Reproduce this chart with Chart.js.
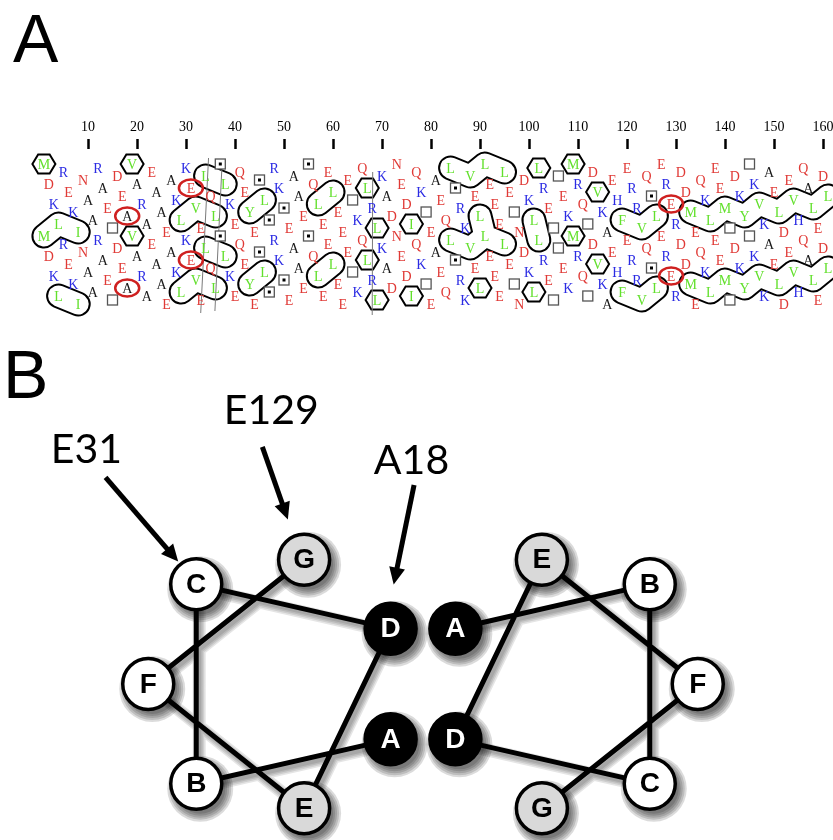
<!DOCTYPE html>
<html>
<head>
<meta charset="utf-8">
<script src="https://cdn.jsdelivr.net/npm/chart.js@4.4.1/dist/chart.umd.min.js"></script>
<style>
  html, body { margin: 0; padding: 0; background: #fff; }
  #wrap { position: relative; width: 833px; height: 840px; overflow: hidden; }
  #hca { position: absolute; left: 0; top: 0; }
  #wheel { position: absolute; left: 0; top: 345px; }
</style>
</head>
<body>
<div id="wrap">
  <canvas id="hca" width="833" height="345"></canvas>
  <canvas id="wheel" width="833" height="495"></canvas>
</div>
<script>
// ---- panel A : hydrophobic cluster plot ----
// residues 1-161, ten per chunk
const sequence = [...[
  'MDKLREKINA', 'ARAETDEAVA', 'RAEAAEAKLK', 'EVELQLSLKE', 'QEYESLSRKS',
  'EAAESQLEEL', 'EEETKQLRLK', 'ADNEDIQKTE', 'AEQLSRKVEL', 'LEEELETNDK',
  'LLRETTEKMR', 'QTDVKAEHFE', 'RRVQSLERER', 'DDMEQKLEEM', 'TDKYTKVKAE',
  'LDEVHQALED', 'L'
].join('')];
const turnAngle = 100;           // degrees per residue on the helical net
const tickValues = [10, 20, 30, 40, 50, 60, 70, 80, 90, 100, 110, 120, 130, 140, 150, 160];
const clusters = [
  [1, 4, 8], [19], [29, 32, 36], [34, 38], [43, 46], [57, 60], [67], [69], [76],
  [84, 88, 91, 90, 91, 95], [101, 102], [109], [114], [119, 123, 126],
  [133, 137, 140, 144, 147, 151, 154, 158, 161]
];
const circled = [18, 31, 129];
const guideLines = [
  [[34.6, 70], [33.0, 845]],
  [[37.3, 130], [35.9, 835]],
  [[68.1, 140], [68.0, 855]]
];
const groups = ['DENQ', 'KRH', 'VILMFYW', 'A', 'T', 'S'];
const groupNames = ['acidic / amide', 'basic', 'hydrophobic', 'alanine', 'threonine', 'serine'];
const groupColors = ['#e03a36', '#2b2be3', '#62e02c', '#1a1a1a', '#555555', '#555555'];

// ---- panel B : helical wheels ----
const heptad = ['A', 'B', 'C', 'D', 'E', 'F', 'G'];
const heptadFill = ['#000000', '#ffffff', '#ffffff', '#000000', '#d9d9d9', '#ffffff', '#d9d9d9'];
const wheelCenterX = [-1.155, 1.155];
const wheelStart = [-25.71, 154.29];
const wheelStep = -720 / 7;
const calloutText = ['E31', 'E129', 'A18'];
const calloutAt = [[-2.64, 1.84], [-1.19, 2.14], [-0.09, 1.75]];
const arrowFrom = [[-2.49, 1.62], [-1.26, 1.86], [-0.07, 1.56]];
const arrowTo = [[-1.92, 0.96], [-1.06, 1.29], [-0.23, 0.78]];

function angleOf(i) { return (i * turnAngle) % 360; }

function unwrapPath(path) {
  const out = [];
  path.forEach((res, k) => {
    let t = angleOf(res);
    if (k === 0) {
      if (t < 90) t += 360;
    } else {
      const prev = out[k - 1].t;
      while (t - prev > 180) t -= 360;
      while (prev - t > 180) t += 360;
    }
    out.push({res: res, t: t});
  });
  return out;
}

const letterSets = groups.map((g, gi) => {
  const pts = [];
  sequence.forEach((aa, k) => {
    if (g.indexOf(aa) < 0) return;
    const i = k + 1;
    let t = angleOf(i);
    if (t < 90) t += 360;
    pts.push({x: i, y: t, aa: aa});
    pts.push({x: i, y: t + 360, aa: aa});
  });
  return {label: groupNames[gi], data: pts, pointRadius: 0, color: groupColors[gi]};
});

const hcaPlugin = {
  id: 'hca',
  beforeDatasetsDraw(chart) {
    const ctx = chart.ctx, x = chart.scales.x, y = chart.scales.y;
    ctx.save();
    clusters.forEach(path => {
      const base = unwrapPath(path);
      [-360, 0, 360, 720].forEach(shift => {
        const pts = base.map(p => ({res: p.res, t: p.t + shift}))
          .filter(p => p.t >= 90 && p.t < 810)
          .map(p => [x.getPixelForValue(p.res), y.getPixelForValue(p.t)]);
        if (!pts.length) return;
        const distinct = new Set(pts.map(p => p.join(','))).size;
        if (distinct === 1) {
          const [px, py] = pts[0];
          ctx.beginPath();
          for (let a = 0; a < 6; a++) {
            const ang = Math.PI / 3 * a;
            const vx = px + 11.5 * Math.cos(ang), vy = py + 11 * Math.sin(ang);
            if (a === 0) ctx.moveTo(vx, vy); else ctx.lineTo(vx, vy);
          }
          ctx.closePath();
          ctx.fillStyle = '#fff';
          ctx.fill();
          ctx.lineWidth = 2;
          ctx.lineJoin = 'miter';
          ctx.strokeStyle = '#000';
          ctx.stroke();
        } else {
          const trace = () => {
            ctx.beginPath();
            pts.forEach((p, k) => k ? ctx.lineTo(p[0], p[1]) : ctx.moveTo(p[0], p[1]));
          };
          ctx.lineJoin = 'round';
          ctx.lineCap = 'round';
          trace();
          ctx.strokeStyle = '#000';
          ctx.lineWidth = 25;
          ctx.stroke();
          trace();
          ctx.strokeStyle = '#fff';
          ctx.lineWidth = 21;
          ctx.stroke();
        }
      });
    });
    ctx.strokeStyle = '#7a7a7a';
    ctx.lineWidth = 1;
    ctx.lineCap = 'butt';
    guideLines.forEach(seg => {
      ctx.beginPath();
      ctx.moveTo(x.getPixelForValue(seg[0][0]), y.getPixelForValue(seg[0][1]));
      ctx.lineTo(x.getPixelForValue(seg[1][0]), y.getPixelForValue(seg[1][1]));
      ctx.stroke();
    });
    ctx.restore();
  },
  afterDatasetsDraw(chart) {
    const ctx = chart.ctx, x = chart.scales.x, y = chart.scales.y;
    ctx.save();
    ctx.textAlign = 'center';
    ctx.textBaseline = 'middle';
    ctx.font = '14px "Liberation Serif", "Times New Roman", serif';
    chart.data.datasets.forEach((ds, di) => {
      const meta = chart.getDatasetMeta(di);
      meta.data.forEach((pt, j) => {
        const aa = ds.data[j].aa;
        if (aa === 'T' || aa === 'S') {
          ctx.fillStyle = '#fff';
          ctx.fillRect(pt.x - 5, pt.y - 5, 10, 10);
          ctx.strokeStyle = ds.color;
          ctx.lineWidth = 1.3;
          ctx.strokeRect(pt.x - 5, pt.y - 5, 10, 10);
          if (aa === 'S') {
            ctx.fillStyle = '#000';
            ctx.fillRect(pt.x - 1.5, pt.y - 1.5, 3, 3);
          }
        } else {
          ctx.fillStyle = ds.color;
          ctx.fillText(aa, pt.x, pt.y + 1);
        }
      });
    });
    ctx.strokeStyle = '#cf2020';
    ctx.lineWidth = 2.5;
    circled.forEach(i => {
      let t = angleOf(i);
      if (t < 90) t += 360;
      [t, t + 360].forEach(tt => {
        ctx.beginPath();
        ctx.ellipse(x.getPixelForValue(i), y.getPixelForValue(tt), 12, 8.5, 0, 0, Math.PI * 2);
        ctx.stroke();
      });
    });
    ctx.fillStyle = '#000';
    ctx.textAlign = 'left';
    ctx.textBaseline = 'alphabetic';
    ctx.font = '68px "Liberation Sans", Arial, sans-serif';
    ctx.fillText('A', 13, 62);
    ctx.restore();
  }
};

new Chart(document.getElementById('hca'), {
  type: 'scatter',
  data: {datasets: letterSets},
  options: {
    responsive: false,
    animation: false,
    events: [],
    layout: {padding: 0, autoPadding: false},
    plugins: {legend: {display: false}, tooltip: {enabled: false}},
    scales: {
      x: {
        type: 'linear', position: 'top', min: -7.96, max: 162.04,
        afterFit(s) { s.height = 149; s.paddingLeft = 0; s.paddingRight = 0; },
        afterBuildTicks(s) { s.ticks = tickValues.map(v => ({value: v})); },
        ticks: {autoSkip: false, maxRotation: 0, padding: 3, color: '#000',
                font: {family: '"Liberation Serif", "Times New Roman", serif', size: 14}},
        grid: {drawOnChartArea: false, tickLength: 10, tickColor: '#000', tickWidth: 2.5},
        border: {display: false}
      },
      y: {type: 'linear', display: false, reverse: true, min: 25, max: 1005}
    }
  },
  plugins: [hcaPlugin]
});

// ---- panel B chart ----
function wheelPoints(w) {
  return heptad.map((h, n) => {
    const a = (wheelStart[w] + n * wheelStep) * Math.PI / 180;
    return {x: wheelCenterX[w] + Math.cos(a), y: Math.sin(a), label: h};
  });
}

const wheelSets = [];
[0, 1].forEach(w => {
  wheelSets.push({
    label: 'wheel ' + (w + 1), data: wheelPoints(w), order: 0,
    pointRadius: 25.5, pointBorderWidth: 3.5, pointBorderColor: '#000',
    pointBackgroundColor: heptadFill, showLine: false
  });
});
[0, 1].forEach(w => {
  wheelSets.push({
    label: 'links ' + (w + 1), data: wheelPoints(w), order: 1,
    pointRadius: 0, showLine: true, borderColor: '#000', borderWidth: 5, tension: 0
  });
});

const wheelPlugin = {
  id: 'wheel',
  beforeDatasetsDraw(chart) {
    // soft drop shadow built from layered translucent strokes / discs
    const ctx = chart.ctx;
    ctx.save();
    ctx.lineCap = 'round';
    ctx.lineJoin = 'round';
    [2, 3].forEach(di => {
      const pts = chart.getDatasetMeta(di).data;
      [13, 10, 7, 4].forEach(wd => {
        ctx.strokeStyle = 'rgba(0,0,0,0.1)';
        ctx.lineWidth = wd;
        ctx.beginPath();
        pts.forEach((p, k) => k ? ctx.lineTo(p.x + 3, p.y + 4) : ctx.moveTo(p.x + 3, p.y + 4));
        ctx.stroke();
      });
    });
    [0, 1].forEach(di => {
      chart.getDatasetMeta(di).data.forEach(p => {
        [33, 31, 29, 27, 25].forEach(r => {
          ctx.fillStyle = 'rgba(0,0,0,0.14)';
          ctx.beginPath();
          ctx.arc(p.x + 4, p.y + 5, r, 0, Math.PI * 2);
          ctx.fill();
        });
      });
    });
    ctx.restore();
  },
  afterDatasetsDraw(chart) {
    const ctx = chart.ctx, x = chart.scales.x, y = chart.scales.y;
    ctx.save();
    ctx.textAlign = 'center';
    ctx.textBaseline = 'middle';
    ctx.font = 'bold 28px "Liberation Sans", Arial, sans-serif';
    [0, 1].forEach(w => {
      const meta = chart.getDatasetMeta(w);
      meta.data.forEach((pt, n) => {
        ctx.fillStyle = heptadFill[n] === '#000000' ? '#fff' : '#000';
        ctx.fillText(heptad[n], pt.x, pt.y + 1);
      });
    });
    ctx.fillStyle = '#000';
    ctx.strokeStyle = '#000';
    ctx.font = '41px Lato, "Open Sans", sans-serif';
    calloutText.forEach((txt, k) => {
      ctx.fillText(txt, x.getPixelForValue(calloutAt[k][0]), y.getPixelForValue(calloutAt[k][1]));
      const x1 = x.getPixelForValue(arrowFrom[k][0]), y1 = y.getPixelForValue(arrowFrom[k][1]);
      const x2 = x.getPixelForValue(arrowTo[k][0]), y2 = y.getPixelForValue(arrowTo[k][1]);
      const ang = Math.atan2(y2 - y1, x2 - x1);
      const head = 17;
      ctx.lineWidth = 5;
      ctx.lineCap = 'butt';
      ctx.beginPath();
      ctx.moveTo(x1, y1);
      ctx.lineTo(x2 - head * 0.8 * Math.cos(ang), y2 - head * 0.8 * Math.sin(ang));
      ctx.stroke();
      ctx.beginPath();
      ctx.moveTo(x2, y2);
      ctx.lineTo(x2 - head * Math.cos(ang) + 8 * Math.sin(ang), y2 - head * Math.sin(ang) - 8 * Math.cos(ang));
      ctx.lineTo(x2 - head * Math.cos(ang) - 8 * Math.sin(ang), y2 - head * Math.sin(ang) + 8 * Math.cos(ang));
      ctx.closePath();
      ctx.fill();
    });
    ctx.textAlign = 'left';
    ctx.textBaseline = 'alphabetic';
    ctx.font = '68px "Liberation Sans", Arial, sans-serif';
    ctx.fillText('B', 3, 53);
    ctx.restore();
  }
};

new Chart(document.getElementById('wheel'), {
  type: 'scatter',
  data: {datasets: wheelSets},
  options: {
    responsive: false,
    animation: false,
    events: [],
    layout: {padding: 0, autoPadding: false},
    plugins: {legend: {display: false}, tooltip: {enabled: false}},
    scales: {
      x: {type: 'linear', display: false, min: -3.3176, max: 3.2157},
      y: {type: 'linear', display: false, min: -1.2235, max: 2.6588}
    }
  },
  plugins: [wheelPlugin]
});
</script>
</body>
</html>
